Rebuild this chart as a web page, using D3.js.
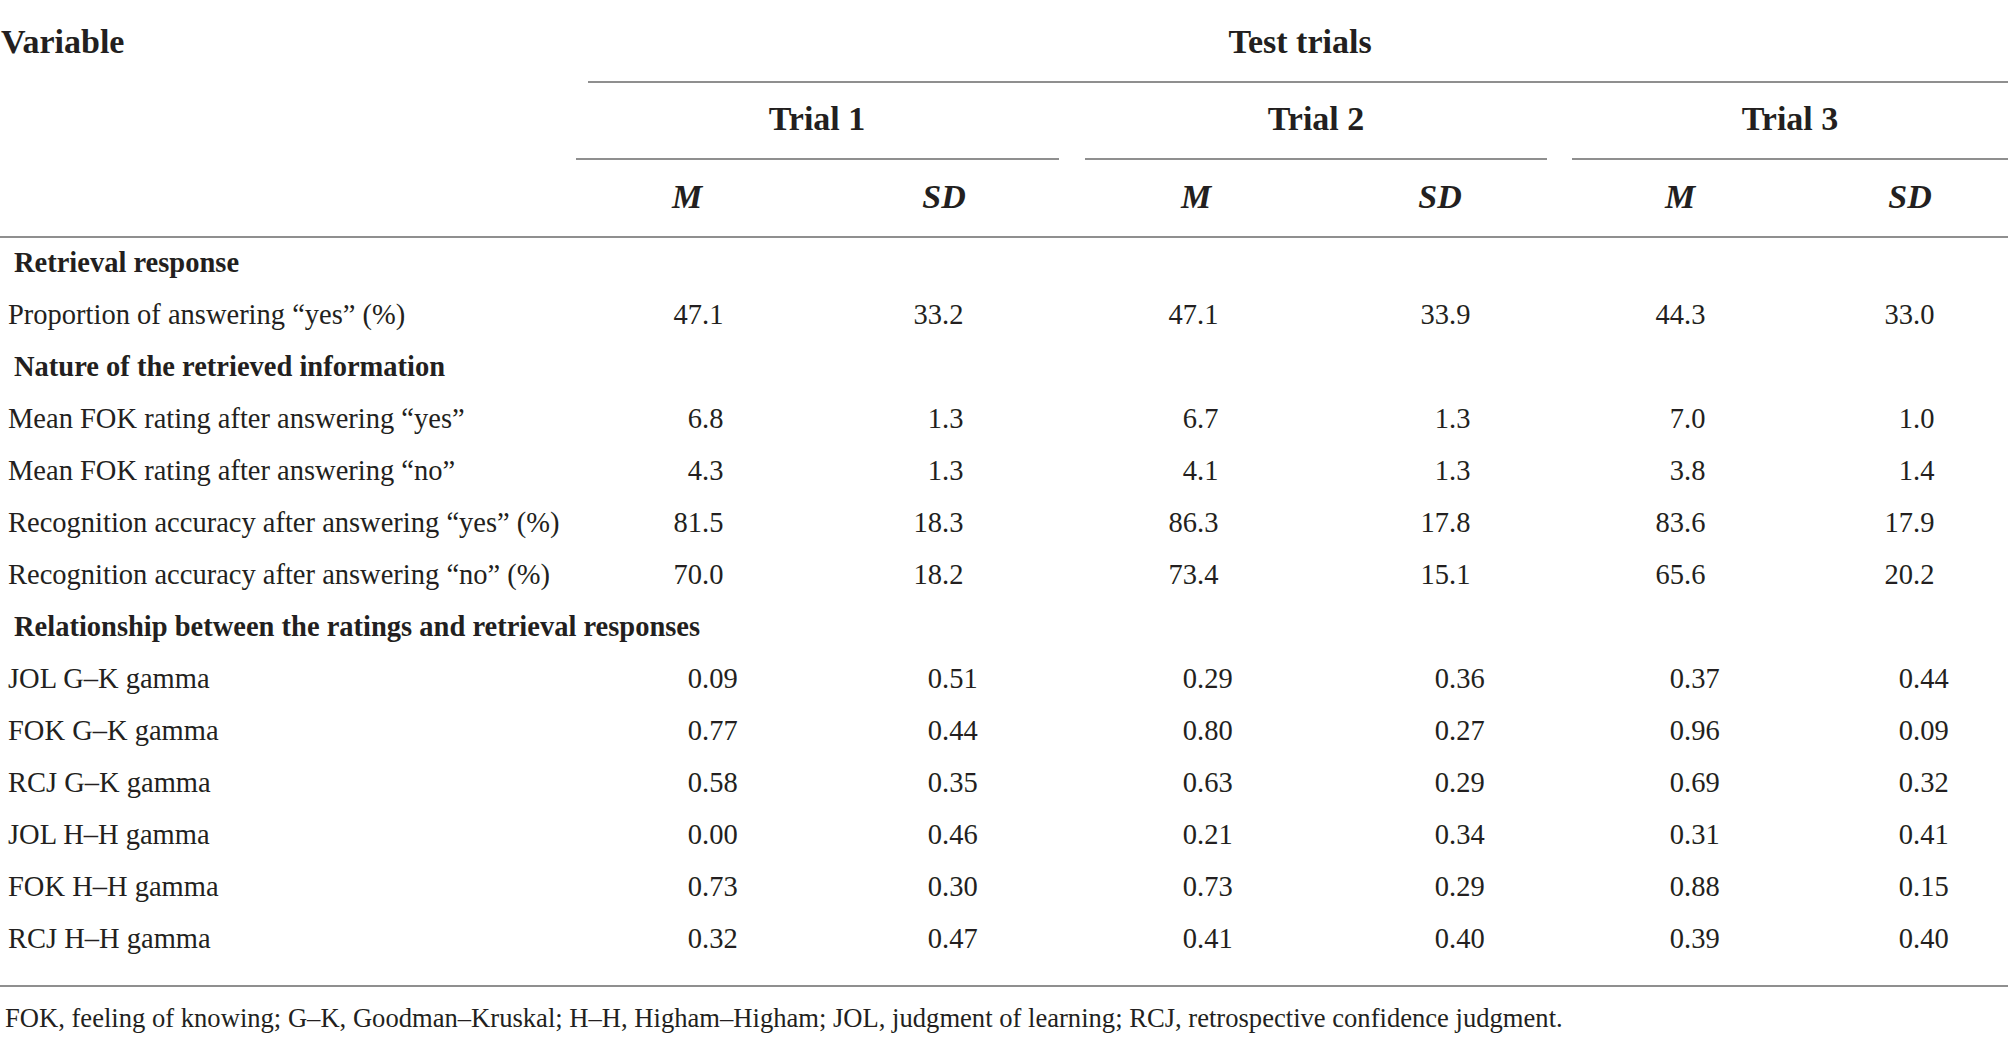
<!DOCTYPE html>
<html>
<head>
<meta charset="utf-8">
<script src="https://cdn.jsdelivr.net/npm/d3@7"></script>
<style>
  body { margin: 0; background: #fff; }
  svg text { font-family: "Liberation Serif", "Times New Roman", serif; fill: #231f20; }
</style>
</head>
<body>
<svg id="table" width="2008" height="1037"></svg>
<script>
// table content
const trials = ["Trial 1", "Trial 2", "Trial 3"]
const stats = ["M", "SD"]
const sections = [
    "Retrieval response",
    "Nature of the retrieved information",
    "Relationship between the ratings and retrieval responses"
]
const variables = [
    "Proportion of answering “yes” (%)",
    "Mean FOK rating after answering “yes”",
    "Mean FOK rating after answering “no”",
    "Recognition accuracy after answering “yes” (%)",
    "Recognition accuracy after answering “no” (%)",
    "JOL G–K gamma",
    "FOK G–K gamma",
    "RCJ G–K gamma",
    "JOL H–H gamma",
    "FOK H–H gamma",
    "RCJ H–H gamma"
]
const sectionOf = [0, 1, 1, 1, 1, 2, 2, 2, 2, 2, 2]
const decimals = [1, 1, 1, 1, 1, 2, 2, 2, 2, 2, 2]

const trial1M  = [47.1, 6.8, 4.3, 81.5, 70.0, 0.09, 0.77, 0.58, 0.00, 0.73, 0.32]
const trial1SD = [33.2, 1.3, 1.3, 18.3, 18.2, 0.51, 0.44, 0.35, 0.46, 0.30, 0.47]
const trial2M  = [47.1, 6.7, 4.1, 86.3, 73.4, 0.29, 0.80, 0.63, 0.21, 0.73, 0.41]
const trial2SD = [33.9, 1.3, 1.3, 17.8, 15.1, 0.36, 0.27, 0.29, 0.34, 0.29, 0.40]
const trial3M  = [44.3, 7.0, 3.8, 83.6, 65.6, 0.37, 0.96, 0.69, 0.31, 0.88, 0.39]
const trial3SD = [33.0, 1.0, 1.4, 17.9, 20.2, 0.44, 0.09, 0.32, 0.41, 0.15, 0.40]

const footnote = "FOK, feeling of knowing; G–K, Goodman–Kruskal; H–H, Higham–Higham; JOL, judgment of learning; RCJ, retrospective confidence judgment."

const columns = [trial1M, trial1SD, trial2M, trial2SD, trial3M, trial3SD]
const colKeys = columns.map((c, i) => trials[Math.floor(i / 2)] + "-" + stats[i % 2])

// build the row list: section titles interleaved with variables
let rows = []
variables.forEach((v, i) => {
    if (i === 0 || sectionOf[i] !== sectionOf[i - 1]) {
        rows.push({ kind: "section", label: sections[sectionOf[i]] })
    }
    rows.push({ kind: "var", label: v, idx: i })
})

const svg = d3.select("#table")
const W = 2008

const y = d3.scalePoint().domain(d3.range(rows.length)).range([272, 948])
const trialX = d3.scaleOrdinal().domain(trials).range([817, 1316, 1790])
const trialSpan = d3.scaleOrdinal().domain(trials).range([[576, 1059], [1085, 1547], [1572, W]])
const headX = d3.scaleOrdinal().domain(colKeys).range([687, 944, 1196, 1440, 1680, 1910])
const decX = d3.scaleOrdinal().domain(colKeys).range([702, 942, 1197, 1449, 1684, 1913])

const ruleColor = "#8f8f8f"

function rule(x1, x2, yy) {
    svg.append("line")
        .attr("x1", x1).attr("x2", x2)
        .attr("y1", yy).attr("y2", yy)
        .attr("stroke", ruleColor)
        .attr("stroke-width", 2)
}

// header
svg.append("text")
    .attr("x", 1).attr("y", 53)
    .attr("font-size", 34).attr("font-weight", "bold")
    .text("Variable")

svg.append("text")
    .attr("x", 1300).attr("y", 53)
    .attr("text-anchor", "middle")
    .attr("font-size", 34).attr("font-weight", "bold")
    .text("Test trials")

rule(588, W, 82)

svg.selectAll("text.trial")
    .data(trials)
    .join("text")
    .attr("class", "trial")
    .attr("x", d => trialX(d))
    .attr("y", 130)
    .attr("text-anchor", "middle")
    .attr("font-size", 34).attr("font-weight", "bold")
    .text(d => d)

trials.forEach(t => rule(trialSpan(t)[0], trialSpan(t)[1], 159))

svg.selectAll("text.stat")
    .data(colKeys)
    .join("text")
    .attr("class", "stat")
    .attr("x", d => headX(d))
    .attr("y", 208)
    .attr("text-anchor", "middle")
    .attr("font-size", 34).attr("font-weight", "bold").attr("font-style", "italic")
    .text(d => d.split("-")[1])

rule(0, W, 237)

// body rows
svg.selectAll("text.rowlabel")
    .data(rows)
    .join("text")
    .attr("class", "rowlabel")
    .attr("x", d => d.kind === "section" ? 14 : 8)
    .attr("y", (d, i) => y(i))
    .attr("font-size", 28.5)
    .attr("font-weight", d => d.kind === "section" ? "bold" : "normal")
    .text(d => d.label)

// cells, aligned on the decimal point
let cells = []
rows.forEach((r, ri) => {
    if (r.kind !== "var") return
    columns.forEach((col, ci) => {
        cells.push({
            row: ri,
            key: colKeys[ci],
            text: d3.format("." + decimals[r.idx] + "f")(col[r.idx])
        })
    })
})

svg.selectAll("text.cell")
    .data(cells)
    .join("text")
    .attr("class", "cell")
    .attr("y", d => y(d.row))
    .attr("font-size", 28.5)
    .text(d => d.text)
    .attr("x", function (d) {
        let intLen = d.text.indexOf(".")
        let w = this.getSubStringLength(0, intLen)
        return decX(d.key) - w
    })

rule(0, W, 986)

svg.append("text")
    .attr("x", 5).attr("y", 1027)
    .attr("font-size", 26.6)
    .text(footnote)
</script>
</body>
</html>
